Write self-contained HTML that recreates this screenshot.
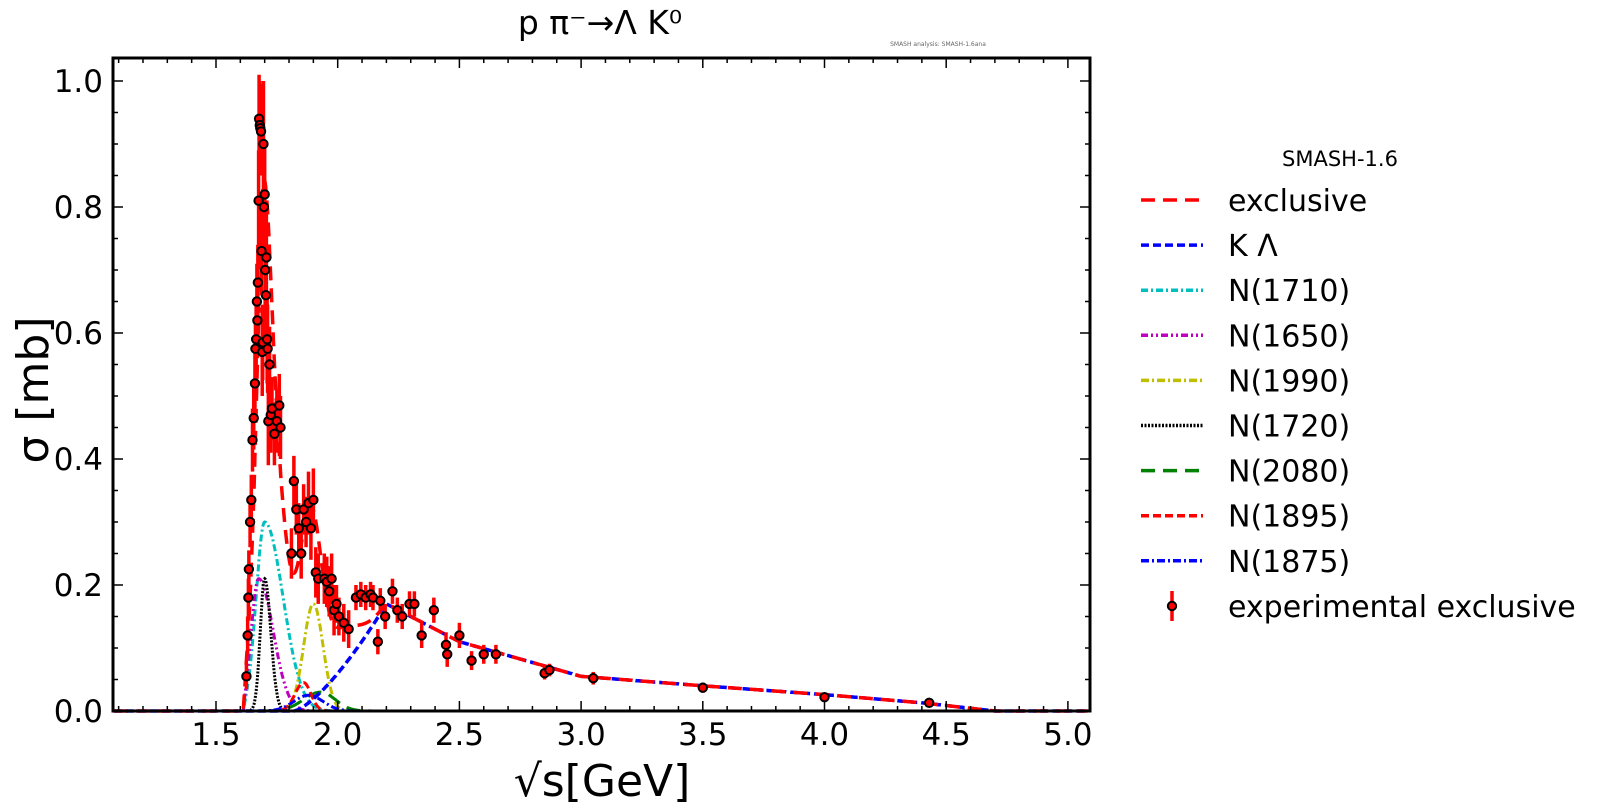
<!DOCTYPE html>
<html><head><meta charset="utf-8"><style>
html,body{margin:0;padding:0;background:#fff;}
svg{display:block;font-family:"DejaVu Sans","Liberation Sans",sans-serif;}
</style></head><body>
<svg id="c" width="1600" height="811" viewBox="0 0 1600 811" xmlns="http://www.w3.org/2000/svg">
<rect width="1600" height="811" fill="#fff"/>
<text x="600" y="34" font-size="33" text-anchor="middle">p π⁻→Λ K⁰</text>
<text x="938" y="46" font-size="6" fill="#666" text-anchor="middle">SMASH analysis: SMASH-1.6ana</text>
<g id="plot"></g>
<g id="axes"></g>
<text x="602" y="796" font-size="44" text-anchor="middle">√s[GeV]</text>
<text transform="translate(48,390) rotate(-90)" font-size="44" text-anchor="middle">σ [mb]</text>
<g id="legend" font-size="30">
<text x="1340" y="166" font-size="21" text-anchor="middle">SMASH-1.6</text>
</g>
</svg>
<script>
const NS="http://www.w3.org/2000/svg";
const L=113,R=1090,T=58,B=711;
const X=v=>216+(v-1.5)*243.4, Y=v=>711-v*630;
function el(p,t,a){const e=document.createElementNS(NS,t);for(const k in a)e.setAttribute(k,a[k]);p.appendChild(e);return e;}
const plot=document.getElementById('plot'),axes=document.getElementById('axes'),leg=document.getElementById('legend');
const th=1.613;
function g(x,A,m,wl,wr){if(x<th)return 0;const w=x<m?wl:wr;let v=A*Math.exp(-(x-m)*(x-m)/(2*w*w));const r=Math.min(1,(x-th)/0.012);return v*Math.sqrt(r);}
const comps=[
 {n:"N(1710)",c:"#00bfbf",d:"7 3 2 3",f:x=>g(x,0.30,1.70,0.035,0.075)},
 {n:"N(1650)",c:"#bf00bf",d:"7 3 2 3 2 3",f:x=>g(x,0.21,1.675,0.03,0.06)},
 {n:"N(1990)",c:"#bfbf00",d:"8 3 2 3",f:x=>g(x,0.17,1.90,0.04,0.04)},
 {n:"N(1720)",c:"#000",d:"2 1.5",f:x=>g(x,0.21,1.70,0.018,0.025)},
 {n:"N(2080)",c:"#008000",d:"14 8",f:x=>g(x,0.03,1.93,0.07,0.06)},
 {n:"N(1895)",c:"#ff0000",d:"8 4",f:x=>g(x,0.045,1.86,0.035,0.03)},
 {n:"N(1875)",c:"#0000ff",d:"8 3 2 3",f:x=>g(x,0.025,1.88,0.06,0.06)}
];
function KL(x){if(x<1.82)return 0;if(x<2.2){const t=(x-1.82)/0.38;return 0.17*Math.pow(t,1.4);}
 const pts=[[2.2,0.17],[2.5,0.11],[3.0,0.055],[3.5,0.04],[4.0,0.026],[4.4,0.013],[4.7,0],[5.1,0]];
 for(let i=0;i<pts.length-1;i++){if(x<=pts[i+1][0]){const t=(x-pts[i][0])/(pts[i+1][0]-pts[i][0]);return pts[i][1]+t*(pts[i+1][1]-pts[i][1]);}}return 0;}
function excl(x){let s=KL(x);for(const c of comps)s+=c.f(x);s+=g(x,0.14,1.69,0.02,0.08);s+=g(x,0.05,1.88,0.04,0.04);s+=g(x,0.05,2.02,0.05,0.07);return s;}
function path(f){let d="";for(let x=1.08;x<=5.08;x+=0.002){d+=(d?"L":"M")+X(x).toFixed(1)+","+Y(f(x)).toFixed(1);}return d;}
for(const c of comps)el(plot,'path',{d:path(c.f),fill:"none",stroke:c.c,"stroke-width":3,"stroke-dasharray":c.d});
el(plot,'path',{d:path(KL),fill:"none",stroke:"#0000ff","stroke-width":3.5,"stroke-dasharray":"8 4"});
el(plot,'path',{d:path(excl),fill:"none",stroke:"#ff0000","stroke-width":3.5,"stroke-dasharray":"14 8"});
const raw=[[1.625,0.055,0.02],[1.63,0.12,0.03],[1.633,0.18,0.03],[1.635,0.225,0.03],[1.64,0.30,0.04],[1.645,0.335,0.04],[1.65,0.43,0.05],[1.655,0.465,0.05],[1.66,0.52,0.05],[1.662,0.575,0.05],[1.665,0.59,0.06],[1.668,0.65,0.06],[1.67,0.62,0.06],[1.672,0.68,0.06],[1.675,0.81,0.08],[1.677,0.94,0.07],[1.68,0.93,0.07],[1.682,0.925,0.07],[1.685,0.92,0.07],[1.687,0.73,0.07],[1.69,0.57,0.07],[1.692,0.585,0.06],[1.695,0.9,0.1],[1.697,0.80,0.08],[1.70,0.82,0.08],[1.702,0.70,0.08],[1.705,0.66,0.07],[1.707,0.72,0.07],[1.71,0.59,0.07],[1.712,0.575,0.07],[1.715,0.46,0.07],[1.72,0.55,0.06],[1.725,0.47,0.06],[1.73,0.48,0.05],[1.74,0.44,0.05],[1.75,0.46,0.05],[1.76,0.485,0.05],[1.765,0.45,0.05],[1.78,0.25,0.04],[1.79,0.365,0.04],[1.80,0.32,0.04],[1.81,0.29,0.04],[1.82,0.25,0.04],[1.83,0.32,0.04],[1.84,0.30,0.04],[1.85,0.33,0.05],[1.86,0.29,0.05],[1.87,0.335,0.05],[1.88,0.22,0.04],[1.89,0.21,0.04],[1.90,0.21,0.04],[1.91,0.205,0.04],[1.92,0.19,0.04],[1.93,0.21,0.04],[1.94,0.16,0.04],[1.95,0.17,0.03],[1.96,0.15,0.03],[1.98,0.14,0.03],[2.0,0.13,0.03],[2.03,0.18,0.02],[2.05,0.185,0.02],[2.07,0.18,0.02],[2.09,0.185,0.02],[2.1,0.18,0.02],[2.12,0.11,0.02],[2.13,0.175,0.02],[2.15,0.15,0.02],[2.18,0.19,0.02],[2.2,0.16,0.02],[2.22,0.15,0.02],[2.25,0.17,0.02],[2.27,0.17,0.02],[2.3,0.12,0.02],[2.35,0.16,0.02],[2.4,0.105,0.02],[2.45,0.09,0.02],[2.5,0.12,0.02],[2.55,0.08,0.015],[2.6,0.09,0.015],[2.65,0.09,0.015],[2.85,0.06,0.01],[2.87,0.065,0.01],[3.05,0.052,0.01],[3.5,0.037,0.008],[4.0,0.022,0.005],[4.43,0.013,0.005]];
const data=raw.map(p=>{let x=p[0];if(x>=1.775&&x<=2.4)x+=(x<1.9?0.03:0.045);return [x,p[1],p[2]];});
for(const p of data)el(plot,'line',{x1:X(p[0]),x2:X(p[0]),y1:Y(p[1]-p[2]),y2:Y(p[1]+p[2]),stroke:"#ff0000","stroke-width":3.5});
for(const p of data)el(plot,'circle',{cx:X(p[0]),cy:Y(p[1]),r:4.2,fill:"#ff0000",stroke:"#000","stroke-width":2});
el(axes,'rect',{x:L,y:T,width:R-L,height:B-T,fill:"none",stroke:"#000","stroke-width":3});
for(let i=11;i<=50;i++){const v=i/10,x=X(v);if(x<L+1||x>R-1)continue;const maj=i%5==0,len=maj?10:5;
 el(axes,'line',{x1:x,x2:x,y1:B,y2:B-len,stroke:"#000","stroke-width":1.5});el(axes,'line',{x1:x,x2:x,y1:T,y2:T+len,stroke:"#000","stroke-width":1.5});
 if(maj){const t=el(axes,'text',{x:x,y:B+34,"font-size":31,"text-anchor":"middle"});t.textContent=v.toFixed(1);}}
for(let i=0;i<=20;i++){const v=i*0.05,y=Y(v);const maj=i%4==0,len=maj?10:5;
 el(axes,'line',{x1:L,x2:L+len,y1:y,y2:y,stroke:"#000","stroke-width":1.5});el(axes,'line',{x1:R,x2:R-len,y1:y,y2:y,stroke:"#000","stroke-width":1.5});
 if(maj){const t=el(axes,'text',{x:L-10,y:y+11,"font-size":31,"text-anchor":"end"});t.textContent=v.toFixed(1);}}
const items=[["exclusive","#ff0000","14 8"],["K Λ","#0000ff","8 4"]].concat(comps.map(c=>[c.n,c.c,c.d]));
items.forEach((it,i)=>{const y=200+i*45.1;el(leg,'line',{x1:1141,x2:1203,y1:y,y2:y,stroke:it[1],"stroke-width":3.5,"stroke-dasharray":it[2]});
 const t=el(leg,'text',{x:1228,y:y+11,"font-size":30});t.textContent=it[0];});
const ye=606;el(leg,'line',{x1:1172,x2:1172,y1:ye-15,y2:ye+15,stroke:"#ff0000","stroke-width":3.5});
el(leg,'circle',{cx:1172,cy:ye,r:4.2,fill:"#ff0000",stroke:"#000","stroke-width":2});
const te=el(leg,'text',{x:1228,y:ye+11,"font-size":30});te.textContent="experimental exclusive";
</script>
</body></html>
